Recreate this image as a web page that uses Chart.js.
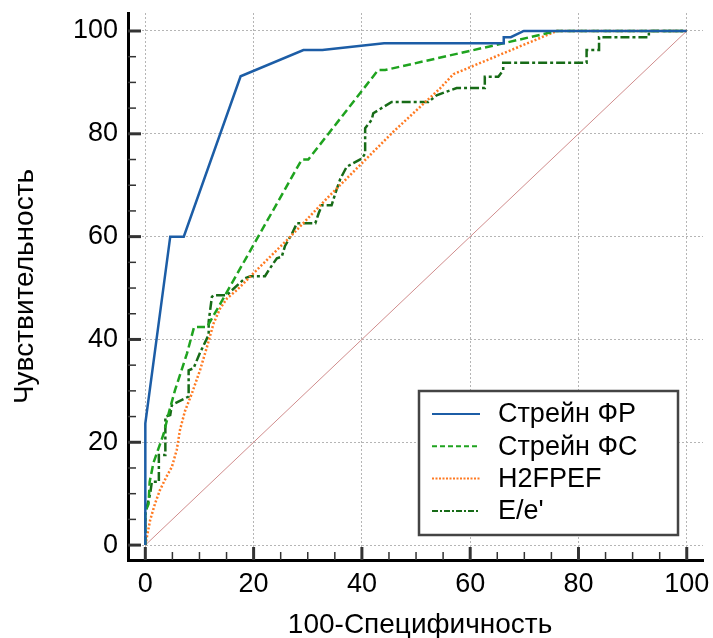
<!DOCTYPE html>
<html>
<head>
<meta charset="utf-8">
<script src="https://cdn.jsdelivr.net/npm/chart.js@4.4.1/dist/chart.umd.min.js"></script>
<style>
html, body { margin: 0; padding: 0; background: #fff; }
</style>
</head>
<body>
<canvas id="rocChart" width="713" height="638"></canvas>
<script>
// ROC curves

// Стрейн ФР
const frX = [0, 0, 4.6, 7.1, 17.6, 29.2, 32.7, 44.1, 66.2, 66.2, 67.5, 69.9, 100];
const frY = [0, 23.7, 60, 60, 91.2, 96.3, 96.3, 97.6, 97.6, 98.8, 98.8, 100, 100];

// Стрейн ФС
const fsX = [0, 0, 0.6, 0.8, 1.5, 3.4, 4.3, 5.5, 6.5, 7.7, 9.0, 11.4, 28.9, 30.1, 43.0, 44.3, 66.1, 76, 100];
const fsY = [0, 6.5, 8, 12.3, 16, 21.7, 25.6, 30.2, 33.4, 37.3, 42.4, 42.4, 75, 75, 92.4, 92.4, 97.6, 100, 100];

// H2FPEF
const h2X = [0, 0.9, 1.8, 2.7, 3.9, 4.9, 5.8, 6.4, 7.3, 8.6, 10.1, 11.4, 12.6, 13.8, 15.1, 16.9, 18.8, 20, 26.8, 33.5, 45.8, 54.4, 56.9, 76, 100];
const h2Y = [0, 4.9, 8.1, 10.7, 13.3, 15.2, 18.5, 22.4, 26, 29.5, 34, 38.6, 43.1, 46, 48, 49.6, 51.6, 52.9, 60, 67.4, 80.4, 88.8, 91.6, 100, 100];

// E/e'
const eeX = [0, 0, 0.3, 0.9, 1.2, 2.5, 2.5, 3.7, 3.7, 4.6, 4.9, 5.5, 8.0, 8.0, 8.9, 10.1, 11.7, 11.7, 12.3, 12.6, 15.1, 15.7, 18.4, 19.4, 22.1, 22.8, 24.3, 25.2, 25.8, 27.1, 28.0, 31.4, 32.0, 32.6, 34.4, 35.4, 36.0, 37.2, 40.0, 40.6, 40.6, 41.8, 42.1, 45.5, 52.3, 53.8, 57.5, 62.7, 62.7, 65.2, 66.1, 66.1, 81.5, 81.5, 83.8, 83.8, 93.0, 93.0, 100];
const eeY = [0, 6.5, 7.5, 10, 12.3, 12.3, 17.5, 17.5, 25, 25.3, 27.2, 27.6, 28.9, 34, 34.4, 37.4, 40.9, 43.5, 48.3, 48.6, 48.6, 49.3, 51.9, 52.3, 52.3, 53.5, 55.8, 56.1, 58.2, 60.6, 62.6, 62.6, 64.5, 66.1, 66.1, 69.4, 71.2, 73.6, 75.2, 76.2, 81.1, 82.7, 84, 86.2, 86.2, 87.5, 88.9, 88.9, 91.1, 91.1, 92.4, 93.8, 93.8, 96.3, 96.3, 98.8, 98.8, 100, 100];

// reference diagonal
const diagX = [0, 100];
const diagY = [0, 100];

const xTicks = [0, 20, 40, 60, 80, 100];
const yTicks = [0, 20, 40, 60, 80, 100];
const minorTicks = [5, 10, 15, 25, 30, 35, 45, 50, 55, 65, 70, 75, 85, 90, 95];

const seriesNames = ['Стрейн ФР', 'Стрейн ФС', 'H2FPEF', "E/e'"];
const xTitle = '100-Специфичность';
const yTitle = 'Чувствительность';

function pts(xs, ys) {
    return xs.map((x, i) => ({ x: x, y: ys[i] }));
}

Chart.defaults.font.family = '"Liberation Sans", Arial, sans-serif';
Chart.defaults.color = '#000';

// ticks drawn inward from the axis lines, as in the reference
const axisTicks = {
    id: 'axisTicks',
    afterDraw(chart) {
        const ctx = chart.ctx;
        const xs = chart.scales.x, ys = chart.scales.y;
        const area = chart.chartArea;
        ctx.save();
        ctx.strokeStyle = '#333';
        const tick = (v, major) => {
            ctx.lineWidth = major ? 3 : 1.5;
            const len = major ? 13 : 8;
            const px = xs.getPixelForValue(v);
            ctx.beginPath();
            ctx.moveTo(px, area.bottom);
            ctx.lineTo(px, area.bottom - len);
            ctx.stroke();
            const py = ys.getPixelForValue(v);
            ctx.beginPath();
            ctx.moveTo(area.left, py);
            ctx.lineTo(area.left + len, py);
            ctx.stroke();
        };
        xTicks.forEach(v => tick(v, true));
        minorTicks.forEach(v => tick(v, false));

        // x axis title, centred a bit right of the scale box like the original
        ctx.font = '28px "Liberation Sans", Arial, sans-serif';
        ctx.fillStyle = '#000';
        ctx.textAlign = 'center';
        ctx.textBaseline = 'alphabetic';
        ctx.fillText(xTitle, (xs.getPixelForValue(0) + xs.getPixelForValue(100)) / 2 + 4, 633);
        ctx.restore();
    }
};

// boxed legend inside the plot, bottom right
const boxLegend = {
    id: 'boxLegend',
    afterDraw(chart) {
        const ctx = chart.ctx;
        const bx = 419, by = 391, bw = 259, bh = 144;
        ctx.save();
        ctx.fillStyle = '#fff';
        ctx.fillRect(bx, by, bw, bh);
        ctx.lineWidth = 2.5;
        ctx.strokeStyle = '#444';
        ctx.strokeRect(bx, by, bw, bh);
        ctx.font = '27px "Liberation Sans", Arial, sans-serif';
        ctx.textBaseline = 'middle';
        ctx.fillStyle = '#000';
        seriesNames.forEach((name, i) => {
            const ds = chart.data.datasets[i];
            const y = by + 23 + i * 32.3;
            ctx.beginPath();
            ctx.setLineDash(ds.legendDash || []);
            ctx.strokeStyle = ds.borderColor;
            ctx.lineWidth = 2;
            ctx.moveTo(bx + 13, y);
            ctx.lineTo(bx + 61, y);
            ctx.stroke();
            ctx.setLineDash([]);
            ctx.fillText(name, bx + 79, y + 1);
        });
        ctx.restore();
    }
};

new Chart(document.getElementById('rocChart'), {
    type: 'scatter',
    data: {
        datasets: [
            {
                label: seriesNames[0],
                data: pts(frX, frY),
                borderColor: '#1c5da6',
                borderWidth: 2.5,
                legendDash: []
            },
            {
                label: seriesNames[1],
                data: pts(fsX, fsY),
                borderColor: '#1fa31f',
                borderWidth: 2.5,
                borderDash: [8, 4],
                legendDash: [5, 3]
            },
            {
                label: seriesNames[2],
                data: pts(h2X, h2Y),
                borderColor: '#ff7a22',
                borderWidth: 2.5,
                borderDash: [2, 2],
                legendDash: [2, 1.5]
            },
            {
                label: seriesNames[3],
                data: pts(eeX, eeY),
                borderColor: '#176b17',
                borderWidth: 2.5,
                borderDash: [9, 3, 3, 3],
                legendDash: [6, 2, 2, 2]
            },
            {
                label: 'diag',
                data: pts(diagX, diagY),
                borderColor: '#d08c8c',
                borderWidth: 1
            }
        ].map(ds => Object.assign({ showLine: true, pointRadius: 0, tension: 0, fill: false }, ds))
    },
    options: {
        responsive: false,
        animation: false,
        layout: { padding: { top: 13, right: 10, left: 0, bottom: 0 } },
        plugins: {
            legend: { display: false },
            tooltip: { enabled: false }
        },
        scales: {
            x: {
                type: 'linear',
                min: -3.2,
                max: 103,
                afterBuildTicks: s => { s.ticks = xTicks.map(v => ({ value: v })); },
                afterFit: s => { s.height = 78; s.paddingLeft = 0; s.paddingRight = 0; },
                grid: { color: '#b5b5b5', lineWidth: 1, drawTicks: false },
                border: { display: true, color: '#000', width: 3, dash: [2, 2] },
                ticks: { font: { size: 27 }, padding: 8, maxRotation: 0 },
                title: { display: false }
            },
            y: {
                type: 'linear',
                min: -2.9,
                max: 103.5,
                afterBuildTicks: s => { s.ticks = yTicks.map(v => ({ value: v })); },
                afterFit: s => { s.width = 128; s.paddingTop = 0; s.paddingBottom = 0; },
                grid: { color: '#b5b5b5', lineWidth: 1, drawTicks: false },
                border: { display: true, color: '#000', width: 3, dash: [2, 2] },
                ticks: { font: { size: 27 }, padding: 10 },
                title: {
                    display: true,
                    text: yTitle,
                    font: { size: 28 },
                    padding: { top: 8, bottom: 0 }
                }
            }
        }
    },
    plugins: [axisTicks, boxLegend]
});
</script>
</body>
</html>
